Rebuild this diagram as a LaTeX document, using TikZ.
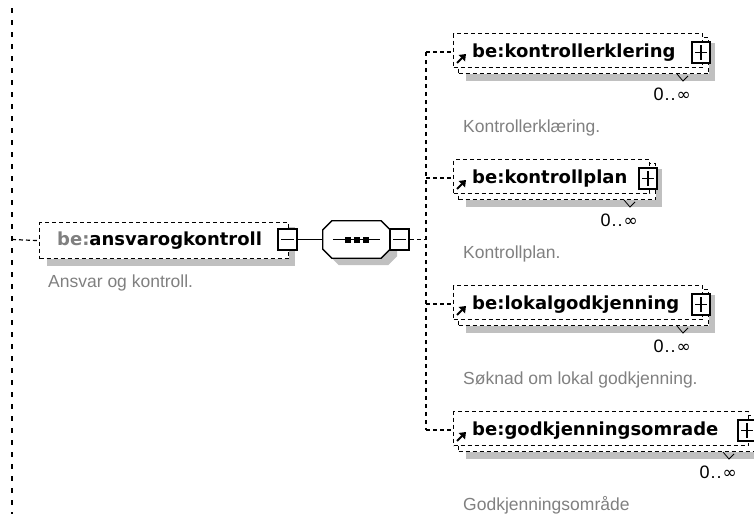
\documentclass[tikz,border=0pt]{standalone}
\usepackage{fontspec}
\usetikzlibrary{arrows.meta}
\newfontfamily\djv{DejaVu Sans}
\newfontfamily\lib{Liberation Sans}
\definecolor{shadowgray}{HTML}{C0C0C0}
\definecolor{descgray}{HTML}{808080}
\tikzset{
  ebox/.style={draw, dash pattern=on 4pt off 3pt, line width=1.2pt, fill=white, inner sep=0, anchor=north west},
  shadowbox/.style={fill=shadowgray, inner sep=0, anchor=north west},
  pmbox/.style={draw, line width=1.7pt, fill=white, minimum width=19pt, minimum height=21pt, inner sep=0},
  lbl/.style={font=\djv\bfseries\fontsize{18}{20}\selectfont, inner sep=0, anchor=base west},
  desc/.style={font=\lib\fontsize{17.5}{20}\selectfont, text=descgray, inner sep=0, anchor=base west},
  card/.style={font=\lib\fontsize{18}{20}\selectfont, inner sep=0, anchor=base east},
  conn/.style={dash pattern=on 4pt off 3pt, line width=1.2pt},
  seqsq/.style={fill=black, minimum size=6pt, inner sep=0},
  octo/.style={line width=1.3pt},
}
\newcommand\octpath[1]{([xshift=9pt]#1.north west) -- ([xshift=-9pt]#1.north east) -- ([yshift=-9pt]#1.north east) -- ([yshift=9pt]#1.south east) -- ([xshift=-9pt]#1.south east) -- ([xshift=9pt]#1.south west) -- ([yshift=9pt]#1.south west) -- ([yshift=-9pt]#1.north west) -- cycle}
\begin{document}
\begin{tikzpicture}[x=1pt,y=-1pt]
\useasboundingbox (0,0) rectangle (754,514);
% left long line
\coordinate (ltop) at (12,8);
\coordinate (lbot) at (12,514);
\coordinate (lm) at (12,239.5);
\draw[dash pattern=on 5pt off 7pt, line width=2pt] (ltop) -- (lbot);
% main element
\node[shadowbox, minimum width=248pt, minimum height=39pt] (mainshadow) at (47,227) {};
\node[ebox, minimum width=249pt, minimum height=36pt] (mainbox) at (39,222) {};
\draw[conn] (lm) -- (mainbox.west);
\node[lbl] (mainlbl) at (57,245) {{\color{descgray}be:}ansvarogkontroll};
\node[desc] (maindesc) at (48,287) {Ansvar og kontroll.};
\node[pmbox] (minusA) at (287.5,239.5) {};
\draw[line width=1.3pt] ([xshift=4pt]minusA.west) -- ([xshift=-4pt]minusA.east);
% sequence compositor
\node[inner sep=0, minimum width=67pt, minimum height=37pt] (seqshadow) at (363.5,246.5) {};
\node[inner sep=0, minimum width=67pt, minimum height=37pt] (seq) at (356.5,239.5) {};
\fill[shadowgray] \octpath{seqshadow};
\draw[octo, fill=white] \octpath{seq};
\draw[line width=1.3pt] (minusA.east) -- (seq.west);
\draw[line width=1.3pt] ([xshift=10pt]seq.west) -- ([xshift=-10pt]seq.east);
\node[seqsq] (sq1) at (348,239.5) {};
\node[seqsq] (sq2) at (357,239.5) {};
\node[seqsq] (sq3) at (366,239.5) {};
\node[pmbox] (minusB) at (399.5,239.5) {};
\draw[line width=1.3pt] ([xshift=4pt]minusB.west) -- ([xshift=-4pt]minusB.east);
\coordinate (jm) at (426,239.5);
\draw[conn] (minusB.east) -- (jm);
% children
\foreach \i/\T/\R/\lab/\dsc in {
  1/33/710/kontrollerklering/Kontrollerklæring.,
  2/159/657/kontrollplan/Kontrollplan.,
  3/285/710/lokalgodkjenning/Søknad om lokal godkjenning.,
  4/411/756/godkjenningsomrade/Godkjenningsområde}{
  \pgfmathsetmacro{\fw}{\R-8-453}
  \pgfmathsetmacro{\bw}{\R-2-458}
  \pgfmathsetmacro{\sw}{\R+5-466}
  \node[shadowbox, minimum width=\sw pt, minimum height=38pt] (sh\i) at (466,\T+10) {};
  \node[ebox, minimum width=\bw pt, minimum height=36pt] (back\i) at (458,\T+4) {};
  \node[ebox, minimum width=\fw pt, minimum height=34pt] (front\i) at (453,\T) {};
  \coordinate (j\i) at (426,\T+19);
  \draw[conn] (j\i) -- (front\i.west |- j\i);
  \node[lbl] (lab\i) at (472,\T+24) {be:\lab};
  \node[pmbox, minimum width=18pt] (plus\i) at (\R-9,\T+19.5) {};
  \draw[line width=1.3pt] ([xshift=4pt]plus\i.west) -- ([xshift=-4pt]plus\i.east)
        ([yshift=-4pt]plus\i.north) -- ([yshift=4pt]plus\i.south);
  \coordinate (ra\i) at (457,\T+30);
  \coordinate (rb\i) at (462,\T+25);
  \coordinate (rt\i) at (466,\T+21);
  \draw[line width=1.8pt] (ra\i) -- (rb\i);
  \fill (rt\i) -- ++(-7.5,1) -- ++(6.5,6.5) -- cycle;
  \coordinate (na\i) at (\R-33,\T+41);
  \coordinate (nb\i) at (\R-27,\T+48);
  \coordinate (nc\i) at (\R-22,\T+43);
  \draw[line width=0.8pt] (na\i) -- (nb\i) -- (nc\i);
  \node[card] (card\i) at (\R-19,\T+67) {0\kern1pt.\kern1pt.\kern1pt{\djv\fontsize{17}{20}\selectfont ∞}};
  \node[desc] (desc\i) at (463,\T+99) {\dsc};
}
\draw[dash pattern=on 4pt off 4pt, line width=1.5pt] (j1) -- (j4);
\end{tikzpicture}
\end{document}
